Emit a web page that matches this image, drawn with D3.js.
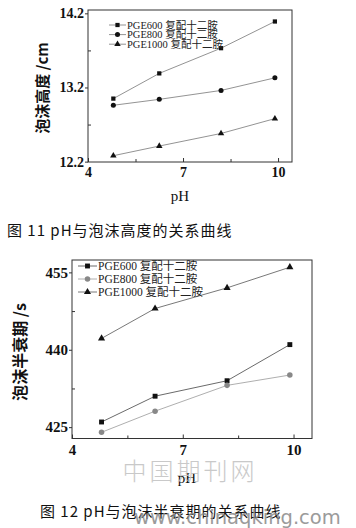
<!DOCTYPE html>
<html><head><meta charset="utf-8">
<script src="https://cdn.jsdelivr.net/npm/d3@7"></script>
<style>
html,body{margin:0;padding:0;background:#fff;}
svg{display:block;}
</style></head>
<body>
<svg id="c" width="356" height="528"></svg>
<script>
// ---- data ----
const pH = [4.8, 6.25, 8.2, 9.9];
const seriesNames = ["PGE600 复配十二胺", "PGE800 复配十二胺", "PGE1000 复配十二胺"];
const height600 = [13.05, 13.39, 13.73, 14.09];
const height800 = [12.96, 13.04, 13.16, 13.33];
const height1000 = [12.28, 12.41, 12.58, 12.78];
const half600 = [426.0, 431.0, 434.0, 441.0];
const half800 = [424.0, 428.1, 433.1, 435.1];
const half1000 = [442.2, 448.0, 452.0, 456.0];
const xTicks = [4, 7, 10];
const yTicks1 = [12.2, 13.2, 14.2];
const yTicks2 = [425, 440, 455];
const captions = ["图 11 pH与泡沫高度的关系曲线", "图 12 pH与泡沫半衰期的关系曲线"];

const svg = d3.select("#c");
const serif = "'Liberation Serif','DejaVu Serif',serif";
const cjk = "'Noto Sans CJK SC',sans-serif";

function marker(g, type, x, y, size, color) {
  const sym = type === "square" ? d3.symbolSquare : type === "circle" ? d3.symbolCircle : d3.symbolTriangle;
  g.append("path").attr("d", d3.symbol().type(sym).size(size)())
    .attr("transform", `translate(${x},${y})`).attr("fill", color);
}

function chart(cfg) {
  const x = d3.scaleLinear().domain(cfg.xDomain).range([cfg.left, cfg.right]);
  const y = d3.scaleLinear().domain(cfg.yDomain).range([cfg.bottom, cfg.top]);
  const g = svg.append("g");
  g.append("rect").attr("x", cfg.left).attr("y", cfg.top)
    .attr("width", cfg.right - cfg.left).attr("height", cfg.bottom - cfg.top)
    .attr("fill", "none").attr("stroke", "#333").attr("stroke-width", 1);
  const xa = g.append("g").attr("transform", `translate(0,${cfg.bottom})`)
    .call(d3.axisBottom(x).tickValues(cfg.xMinor).tickSize(-3).tickFormat(""));
  const xb = g.append("g").attr("transform", `translate(0,${cfg.bottom})`)
    .call(d3.axisBottom(x).tickValues(xTicks).tickSize(-4).tickPadding(cfg.xPad).tickFormat(d3.format("d")));
  const ya = g.append("g").attr("transform", `translate(${cfg.left},0)`)
    .call(d3.axisLeft(y).tickValues(cfg.yMinor).tickSize(-3).tickFormat(""));
  const yb = g.append("g").attr("transform", `translate(${cfg.left},0)`)
    .call(d3.axisLeft(y).tickValues(cfg.yTicks).tickSize(3).tickPadding(1).tickFormat(cfg.yFmt));
  [xa, xb, ya, yb].forEach(a => {
    a.select(".domain").remove();
    a.selectAll("line").attr("stroke", "#333");
    a.selectAll("text").attr("font-family", serif).attr("font-size", cfg.tickFont)
      .attr("fill", "#111").attr("font-weight", "bold");
  });
  cfg.series.forEach((s, i) => {
    const line = d3.line().x((d, j) => x(pH[j])).y(d => y(d));
    g.append("path").datum(s.values).attr("d", line).attr("fill", "none")
      .attr("stroke", s.lineColor).attr("stroke-width", 0.8);
    s.values.forEach((v, j) => marker(g, s.type, x(pH[j]), y(v), s.size, s.color));
  });
  cfg.series.forEach((s, i) => {
    const ly = cfg.legY + i * cfg.legDy;
    g.append("line").attr("x1", cfg.legX).attr("x2", cfg.legX + cfg.legW)
      .attr("y1", ly).attr("y2", ly).attr("stroke", s.lineColor).attr("stroke-width", 0.8);
    marker(g, s.type, cfg.legX + cfg.legW / 2, ly, s.size, s.color);
    const t = g.append("text").attr("x", cfg.legX + cfg.legW + 1).attr("y", ly + cfg.legFont * 0.36)
      .attr("font-size", cfg.legFont).attr("fill", "#222");
    const parts = seriesNames[i].split(" ");
    t.append("tspan").attr("font-family", serif).text(parts[0] + " ");
    t.append("tspan").attr("font-family", cjk).text(parts[1]);
  });
  g.append("text").attr("transform", `translate(${cfg.yTitleX},${cfg.yTitleY}) rotate(-90)`)
    .attr("text-anchor", "middle").attr("font-size", cfg.yTitleFont).attr("fill", "#111")
    .attr("font-family", cjk).attr("font-weight", "bold").text(cfg.yTitle);
  g.append("text").attr("x", cfg.xTitleX).attr("y", cfg.xTitleY).attr("text-anchor", "middle")
    .attr("font-family", serif).attr("font-size", 15).attr("fill", "#111").text("pH");
  return g;
}

chart({
  left: 88, right: 292, top: 10, bottom: 162,
  xDomain: [4, 10.44], yDomain: [12.195, 14.245],
  xMinor: [5.5, 8.5], yMinor: [12.7, 13.7], yTicks: yTicks1, yFmt: d3.format(".1f"),
  xPad: 5, tickFont: 14,
  series: [
    {values: height600, type: "square", size: 18, color: "#111", lineColor: "#777"},
    {values: height800, type: "circle", size: 20, color: "#111", lineColor: "#777"},
    {values: height1000, type: "triangle", size: 18, color: "#111", lineColor: "#777"}
  ],
  legX: 109, legW: 17, legY: 25, legDy: 9.6, legFont: 10.5,
  yTitle: "泡沫高度 /cm", yTitleX: 48, yTitleY: 88, yTitleFont: 15,
  xTitleX: 180, xTitleY: 201
});

chart({
  left: 72, right: 312, top: 260, bottom: 438.5,
  xDomain: [4, 10.5], yDomain: [422.8, 457.4],
  xMinor: [5.5, 8.5], yMinor: [432.5, 447.5], yTicks: yTicks2, yFmt: d3.format("d"),
  xPad: 6, tickFont: 15,
  series: [
    {values: half600, type: "square", size: 24, color: "#111", lineColor: "#444"},
    {values: half800, type: "circle", size: 24, color: "#888", lineColor: "#999"},
    {values: half1000, type: "triangle", size: 22, color: "#111", lineColor: "#555"}
  ],
  legX: 78, legW: 19, legY: 266, legDy: 13, legFont: 11.5,
  yTitle: "泡沫半衰期 /s", yTitleX: 26, yTitleY: 352, yTitleFont: 16,
  xTitleX: 187, xTitleY: 483
});

// captions
svg.append("text").attr("x", 7).attr("y", 236).attr("font-family", cjk)
  .attr("font-size", 15).attr("letter-spacing", 1).attr("fill", "#111").text(captions[0]);
svg.append("text").attr("x", 40).attr("y", 517).attr("font-family", cjk)
  .attr("font-size", 15).attr("letter-spacing", 1).attr("fill", "#111").text(captions[1]);

// watermarks
svg.append("text").attr("x", 190).attr("y", 480).attr("text-anchor", "middle")
  .attr("font-family", cjk).attr("font-weight", 300).attr("font-size", 24)
  .attr("letter-spacing", 3).attr("fill", "#c4c4c4").attr("opacity", 0.9).text("中国期刊网");
svg.append("text").attr("x", 134).attr("y", 524)
  .attr("font-family", "'DejaVu Sans',sans-serif").attr("font-size", 19.5)
  .attr("fill", "#8a8a8a").attr("opacity", 0.85).text("www.chinaqking.com");
</script>
</body></html>
